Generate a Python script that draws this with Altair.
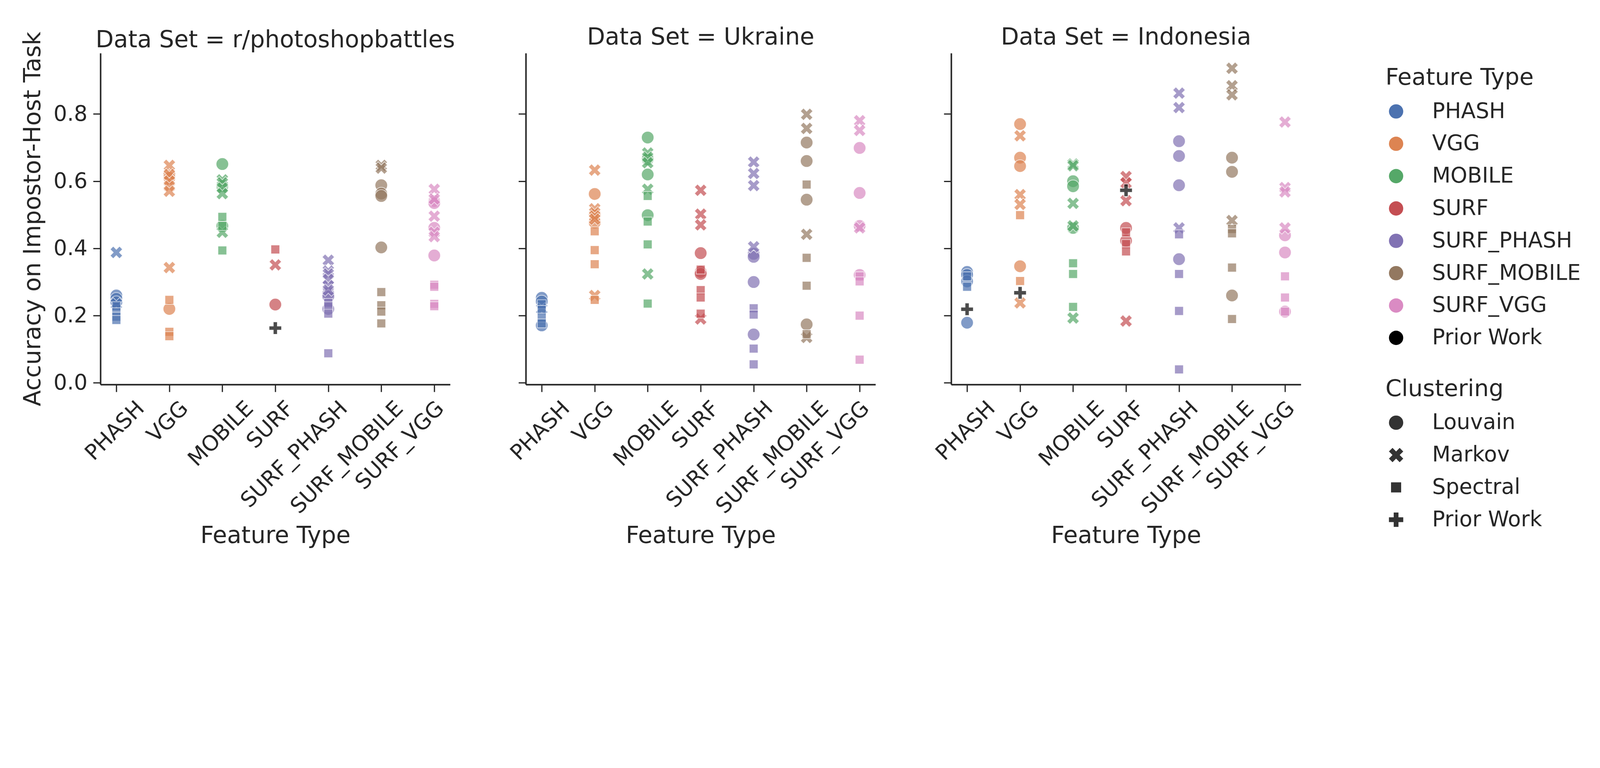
import altair as alt
import pandas as pd

FEATURES = ["PHASH", "VGG", "MOBILE", "SURF", "SURF_PHASH", "SURF_MOBILE", "SURF_VGG"]
HUES = FEATURES + ["Prior Work"]
COLORS = ["#4c72b0", "#dd8452", "#55a868", "#c44e52", "#8172b3", "#937860", "#da8bc3", "#000000"]
CLUSTERINGS = ["Louvain", "Markov", "Spectral", "Prior Work"]
DATASETS = ["r/photoshopbattles", "Ukraine", "Indonesia"]
Y_TICKS = [0.0, 0.2, 0.4, 0.6, 0.8]

# ---- r/photoshopbattles ----
psb_louvain = [("PHASH", 0.26), ("PHASH", 0.25), ("PHASH", 0.24),
               ("VGG", 0.62), ("VGG", 0.61), ("VGG", 0.22),
               ("MOBILE", 0.651), ("MOBILE", 0.585), ("MOBILE", 0.467),
               ("SURF", 0.233),
               ("SURF_PHASH", 0.266), ("SURF_PHASH", 0.257), ("SURF_PHASH", 0.22),
               ("SURF_MOBILE", 0.588), ("SURF_MOBILE", 0.563), ("SURF_MOBILE", 0.556), ("SURF_MOBILE", 0.403),
               ("SURF_VGG", 0.541), ("SURF_VGG", 0.535), ("SURF_VGG", 0.461), ("SURF_VGG", 0.379)]
psb_markov = [("PHASH", 0.388), ("PHASH", 0.235),
              ("VGG", 0.647), ("VGG", 0.62), ("VGG", 0.60), ("VGG", 0.585), ("VGG", 0.57), ("VGG", 0.343),
              ("MOBILE", 0.604), ("MOBILE", 0.595), ("MOBILE", 0.58), ("MOBILE", 0.563), ("MOBILE", 0.448),
              ("SURF", 0.351),
              ("SURF_PHASH", 0.365), ("SURF_PHASH", 0.333), ("SURF_PHASH", 0.324), ("SURF_PHASH", 0.308),
              ("SURF_PHASH", 0.289), ("SURF_PHASH", 0.276),
              ("SURF_MOBILE", 0.647), ("SURF_MOBILE", 0.639),
              ("SURF_VGG", 0.576), ("SURF_VGG", 0.547), ("SURF_VGG", 0.496), ("SURF_VGG", 0.448), ("SURF_VGG", 0.435)]
psb_spectral = [("PHASH", 0.228), ("PHASH", 0.21), ("PHASH", 0.197), ("PHASH", 0.187),
                ("VGG", 0.247), ("VGG", 0.152), ("VGG", 0.139),
                ("MOBILE", 0.494), ("MOBILE", 0.467), ("MOBILE", 0.394),
                ("SURF", 0.397),
                ("SURF_PHASH", 0.238), ("SURF_PHASH", 0.228), ("SURF_PHASH", 0.206), ("SURF_PHASH", 0.088),
                ("SURF_MOBILE", 0.27), ("SURF_MOBILE", 0.231), ("SURF_MOBILE", 0.212), ("SURF_MOBILE", 0.177),
                ("SURF_VGG", 0.292), ("SURF_VGG", 0.286), ("SURF_VGG", 0.235), ("SURF_VGG", 0.228)]
psb_prior = [("SURF", 0.163)]

# ---- Ukraine ----
ukr_louvain = [("PHASH", 0.253), ("PHASH", 0.242), ("PHASH", 0.171),
               ("VGG", 0.562), ("VGG", 0.499), ("VGG", 0.477),
               ("MOBILE", 0.730), ("MOBILE", 0.665), ("MOBILE", 0.620), ("MOBILE", 0.499),
               ("SURF", 0.386), ("SURF", 0.330), ("SURF", 0.324),
               ("SURF_PHASH", 0.384), ("SURF_PHASH", 0.375), ("SURF_PHASH", 0.300), ("SURF_PHASH", 0.144),
               ("SURF_MOBILE", 0.715), ("SURF_MOBILE", 0.660), ("SURF_MOBILE", 0.545), ("SURF_MOBILE", 0.174),
               ("SURF_VGG", 0.699), ("SURF_VGG", 0.565), ("SURF_VGG", 0.467), ("SURF_VGG", 0.321)]
ukr_markov = [("PHASH", 0.22),
              ("VGG", 0.633), ("VGG", 0.518), ("VGG", 0.506), ("VGG", 0.496), ("VGG", 0.487), ("VGG", 0.26),
              ("MOBILE", 0.684), ("MOBILE", 0.671), ("MOBILE", 0.655), ("MOBILE", 0.576), ("MOBILE", 0.324),
              ("SURF", 0.573), ("SURF", 0.502), ("SURF", 0.470), ("SURF", 0.19),
              ("SURF_PHASH", 0.657), ("SURF_PHASH", 0.623), ("SURF_PHASH", 0.587), ("SURF_PHASH", 0.405),
              ("SURF_MOBILE", 0.799), ("SURF_MOBILE", 0.757), ("SURF_MOBILE", 0.442), ("SURF_MOBILE", 0.135),
              ("SURF_VGG", 0.780), ("SURF_VGG", 0.751), ("SURF_VGG", 0.461)]
ukr_spectral = [("PHASH", 0.234), ("PHASH", 0.217), ("PHASH", 0.194), ("PHASH", 0.177),
                ("VGG", 0.451), ("VGG", 0.395), ("VGG", 0.353), ("VGG", 0.247),
                ("MOBILE", 0.556), ("MOBILE", 0.48), ("MOBILE", 0.412), ("MOBILE", 0.236),
                ("SURF", 0.337), ("SURF", 0.276), ("SURF", 0.254), ("SURF", 0.206),
                ("SURF_PHASH", 0.222), ("SURF_PHASH", 0.203), ("SURF_PHASH", 0.102), ("SURF_PHASH", 0.055),
                ("SURF_MOBILE", 0.590), ("SURF_MOBILE", 0.372), ("SURF_MOBILE", 0.289), ("SURF_MOBILE", 0.145),
                ("SURF_VGG", 0.317), ("SURF_VGG", 0.302), ("SURF_VGG", 0.200), ("SURF_VGG", 0.069)]
ukr_prior = []

# ---- Indonesia ----
ind_louvain = [("PHASH", 0.330), ("PHASH", 0.321), ("PHASH", 0.302), ("PHASH", 0.179),
               ("VGG", 0.770), ("VGG", 0.670), ("VGG", 0.645), ("VGG", 0.347),
               ("MOBILE", 0.600), ("MOBILE", 0.585), ("MOBILE", 0.461),
               ("SURF", 0.461), ("SURF", 0.423),
               ("SURF_PHASH", 0.719), ("SURF_PHASH", 0.675), ("SURF_PHASH", 0.588), ("SURF_PHASH", 0.368),
               ("SURF_MOBILE", 0.670), ("SURF_MOBILE", 0.628), ("SURF_MOBILE", 0.260),
               ("SURF_VGG", 0.439), ("SURF_VGG", 0.388), ("SURF_VGG", 0.212)]
ind_markov = [("VGG", 0.735), ("VGG", 0.560), ("VGG", 0.531), ("VGG", 0.238),
              ("MOBILE", 0.651), ("MOBILE", 0.646), ("MOBILE", 0.534), ("MOBILE", 0.467), ("MOBILE", 0.193),
              ("SURF", 0.614), ("SURF", 0.595), ("SURF", 0.542), ("SURF", 0.184),
              ("SURF_PHASH", 0.862), ("SURF_PHASH", 0.819), ("SURF_PHASH", 0.461),
              ("SURF_MOBILE", 0.936), ("SURF_MOBILE", 0.884), ("SURF_MOBILE", 0.857), ("SURF_MOBILE", 0.483),
              ("SURF_VGG", 0.776), ("SURF_VGG", 0.581), ("SURF_VGG", 0.568), ("SURF_VGG", 0.461)]
ind_spectral = [("PHASH", 0.317), ("PHASH", 0.286),
                ("VGG", 0.499), ("VGG", 0.303),
                ("MOBILE", 0.356), ("MOBILE", 0.324), ("MOBILE", 0.226),
                ("SURF", 0.448), ("SURF", 0.413), ("SURF", 0.391),
                ("SURF_PHASH", 0.442), ("SURF_PHASH", 0.324), ("SURF_PHASH", 0.214), ("SURF_PHASH", 0.040),
                ("SURF_MOBILE", 0.458), ("SURF_MOBILE", 0.445), ("SURF_MOBILE", 0.343), ("SURF_MOBILE", 0.190),
                ("SURF_VGG", 0.317), ("SURF_VGG", 0.254), ("SURF_VGG", 0.212)]
ind_prior = [("PHASH", 0.219), ("VGG", 0.268), ("SURF", 0.573)]

PANEL_DATA = {
    "r/photoshopbattles": [("Louvain", psb_louvain), ("Markov", psb_markov), ("Spectral", psb_spectral), ("Prior Work", psb_prior)],
    "Ukraine": [("Louvain", ukr_louvain), ("Markov", ukr_markov), ("Spectral", ukr_spectral), ("Prior Work", ukr_prior)],
    "Indonesia": [("Louvain", ind_louvain), ("Markov", ind_markov), ("Spectral", ind_spectral), ("Prior Work", ind_prior)],
}


def build_frame(ds):
    rows = []
    for clus, pts in PANEL_DATA[ds]:
        for feat, acc in pts:
            hue = "Prior Work" if clus == "Prior Work" else feat
            rows.append({"Data Set": ds, "Feature": feat, "Feature Type": hue,
                         "Clustering": clus, "Accuracy": acc})
    return pd.DataFrame(rows)


# marker paths (unit radius = 1)
X_PATH = "M-0.5,-1L0,-0.5L0.5,-1L1,-0.5L0.5,0L1,0.5L0.5,1L0,0.5L-0.5,1L-1,0.5L-0.5,0L-1,-0.5Z"
SQ_PATH = "M-0.7071,-0.7071L0.7071,-0.7071L0.7071,0.7071L-0.7071,0.7071Z"
PLUS_PATH = ("M-0.3333,-1L0.3333,-1L0.3333,-0.3333L1,-0.3333L1,0.3333L0.3333,0.3333"
             "L0.3333,1L-0.3333,1L-0.3333,0.3333L-1,0.3333L-1,-0.3333L-0.3333,-0.3333Z")
SHAPES = ["circle", X_PATH, SQ_PATH, PLUS_PATH]

LABEL_SHIFT = {"PHASH": 56, "VGG": 26, "MOBILE": 66, "SURF": 25,
               "SURF_PHASH": 27, "SURF_MOBILE": 36, "SURF_VGG": -4}
label_offset = {"condition": [{"test": f"datum.value === '{k}'", "value": v}
                              for k, v in LABEL_SHIFT.items()], "value": 0}

TXT = "#262626"
FONT = "DejaVu Sans"


def panel(ds, first):
    df = build_frame(ds)
    if first:
        yax = alt.Axis(title="Accuracy on Impostor-Host Task", values=Y_TICKS, format=".1f",
                       titlePadding=27)
        ttl = alt.TitleParams(f"Data Set = {ds}", dy=80)
    else:
        yax = alt.Axis(title=None, values=Y_TICKS, labels=False)
        ttl = alt.TitleParams(f"Data Set = {ds}")
    return alt.Chart(df).mark_point(filled=True, size=1700, opacity=0.7, stroke="white",
                                    strokeWidth=2.5, strokeOpacity=0.9).encode(
        x=alt.X("Feature:N", sort=FEATURES,
                scale=alt.Scale(domain=FEATURES, padding=0.3),
                axis=alt.Axis(title="Feature Type", labelAngle=315, labelAlign="right",
                              labelBaseline="top", labelOffset=label_offset,
                              labelPadding=19, titleY=458, titleBaseline="top")),
        y=alt.Y("Accuracy:Q", scale=alt.Scale(domain=[-0.005, 0.981], nice=False, zero=False),
                axis=yax),
        color=alt.Color("Feature Type:N", scale=alt.Scale(domain=HUES, range=COLORS),
                        legend=alt.Legend(title="Feature Type", symbolType="circle",
                                          orient="right")),
        shape=alt.Shape("Clustering:N", scale=alt.Scale(domain=CLUSTERINGS, range=SHAPES),
                        legend=alt.Legend(title="Clustering", symbolFillColor="#333333",
                                          orient="right")),
    ).properties(width=1146, height=1086, title=ttl)


chart = alt.hconcat(
    panel(DATASETS[0], True), panel(DATASETS[1], False), panel(DATASETS[2], False),
    spacing=248, bounds="flush",
).resolve_scale(color="shared", shape="shared").properties(
    background="white",
    autosize=alt.AutoSizeParams(type="none"),
    padding={"left": 319, "top": -185, "right": 4904, "bottom": 1590},
).configure_view(stroke=None).configure_axis(
    grid=False, domainColor=TXT, domainWidth=5, tickColor=TXT, tickWidth=4, tickSize=24,
    labelFont=FONT, labelFontSize=70, labelColor=TXT, titleFont=FONT, titleFontSize=77,
    titleColor=TXT, titleFontWeight="normal", labelPadding=19, labelLimit=2000, titleLimit=3000,
).configure_title(
    font=FONT, fontSize=77, fontWeight="normal", color=TXT, offset=12, limit=3000,
).configure_legend(
    titleFont=FONT, titleFontSize=76, titleFontWeight="normal", titleColor=TXT,
    labelFont=FONT, labelFontSize=70, labelColor=TXT, symbolSize=2200, rowPadding=36,
    labelOffset=83, titlePadding=36, padding=44, offset=233, symbolStrokeWidth=0,
    symbolOpacity=1, labelLimit=2000, titleLimit=2000,
)

chart.save("out.html", embed_options={"renderer": "svg", "actions": False})
